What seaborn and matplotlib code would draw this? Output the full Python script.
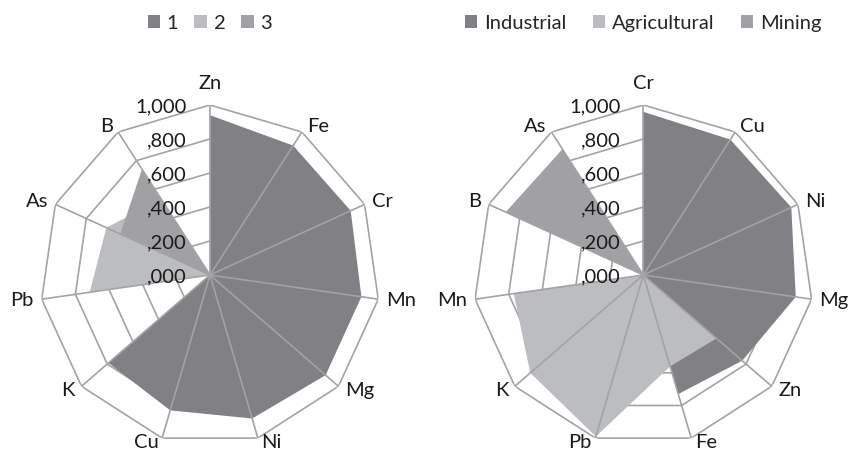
import numpy as np
import seaborn as sns
import matplotlib.pyplot as plt

# values (scale 0..1)
left_axes = ["Zn", "Fe", "Cr", "Mn", "Mg", "Ni", "Cu", "K", "Pb", "As", "B"]
left_names = ["1", "2", "3"]
left_s1 = [0.94, 0.905, 0.91, 0.90, 0.90, 0.88, 0.83, 0.79, 0.0, 0.0, 0.0]
left_s2 = [0.0, 0.0, 0.0, 0.0, 0.0, 0.0, 0.0, 0.0, 0.715, 0.67, 0.53]
left_s3 = [0.0, 0.0, 0.0, 0.0, 0.0, 0.0, 0.0, 0.0, 0.0, 0.58, 0.74]

right_axes = ["Cr", "Cu", "Ni", "Mg", "Zn", "Fe", "Pb", "K", "Mn", "B", "As"]
right_names = ["Industrial", "Agricultural", "Mining"]
right_ind = [0.96, 0.947, 0.957, 0.906, 0.77, 0.73, 0.0, 0.0, 0.0, 0.0, 0.0]
right_agr = [0.0, 0.0, 0.0, 0.0, 0.57, 0.56, 0.99, 0.88, 0.77, 0.0, 0.0]
right_min = [0.0, 0.0, 0.0, 0.0, 0.0, 0.0, 0.0, 0.0, 0.0, 0.89, 0.88]

ring_values = [0.2, 0.4, 0.6, 0.8, 1.0]
tick_values = [0.0, 0.2, 0.4, 0.6, 0.8, 1.0]
tick_labels = [",000", ",200", ",400", ",600", ",800", "1,000"]

sns.set_theme(style="white")
plt.rcParams["font.family"] = ["Lato", "DejaVu Sans"]

colors = sns.color_palette(["#808085", "#bcbdc1", "#a1a1a5"])
grid_color = "#a3a3a3"
text_color = "#1a1a1a"
fs = 14.5
px = 72 / 100  # points per pixel


def radar(ax, cats, series, names, colspace):
    n = len(cats)
    theta = np.linspace(0, 2 * np.pi, n, endpoint=False)
    th = np.append(theta, theta[0])
    ax.set_theta_zero_location("N")
    ax.set_theta_direction(-1)
    ax.set_ylim(0, 1)
    ax.grid(False)
    ax.spines["polar"].set_visible(False)
    ax.set_xticks([])
    ax.set_yticks([])

    # polygon rings under the fills
    for v in ring_values:
        ax.plot(th, [v] * (n + 1), color=grid_color, lw=1.2, zorder=1)

    for vals, c, name in zip(series, colors, names):
        r = np.append(vals, vals[0])
        ax.fill(th, r, color=c, lw=0, zorder=2, label=name)

    # spokes over the fills
    for t in theta:
        ax.plot([t, t], [0, 1], color=grid_color, lw=1.2, zorder=3)

    # category labels anchored next to the outer vertices
    for t, lab in zip(theta, cats):
        s, c = np.sin(t), np.cos(t)
        if abs(s) < 0.05:
            ha, dx, dy = "center", 0, 22
        else:
            ha = "left" if s > 0 else "right"
            dx = np.sign(s) * (2 + 6 * abs(s))
            dy = np.clip(6 * c, -4, 6)
        ax.annotate(lab, xy=(t, 1.0), xytext=(dx * px, dy * px),
                    textcoords="offset points", ha=ha, va="center",
                    fontsize=fs, color=text_color, annotation_clip=False)

    for v, lab in zip(tick_values, tick_labels):
        ax.annotate(lab, xy=(0, v), xytext=(-23 * px, -1), textcoords="offset points",
                    ha="right", va="center", fontsize=fs, color=text_color,
                    zorder=4)

    ax.legend(loc="center", bbox_to_anchor=(0.5, 1.24), ncol=3, frameon=False,
              fontsize=fs, handlelength=0.6, handleheight=0.6,
              handletextpad=0.35, columnspacing=colspace)


fig = plt.figure(figsize=(8.51, 4.54), dpi=100)
ax1 = fig.add_axes([0.047, 0.0198, 0.3995, 0.749], projection="polar")
ax2 = fig.add_axes([0.5562, 0.0198, 0.3995, 0.749], projection="polar")

radar(ax1, left_axes, [left_s1, left_s2, left_s3], left_names, 0.8)
radar(ax2, right_axes, [right_ind, right_agr, right_min], right_names, 1.3)

fig.savefig("out.png", dpi=100)
